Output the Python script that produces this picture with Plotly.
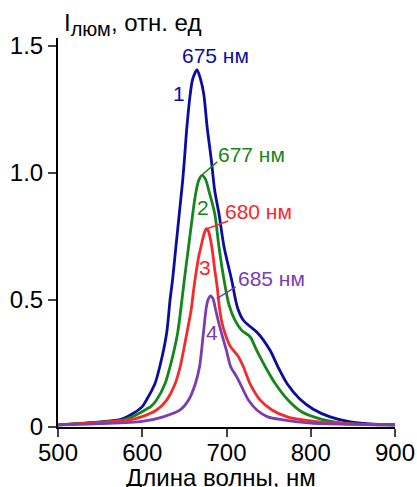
import plotly.graph_objects as go

# Luminescence spectra: wavelength (nm) and intensity (rel. units)
wl_1 = [500, 550, 575, 590, 600, 605, 615, 621, 629, 633, 636, 640, 644, 648, 650, 653, 657, 660, 665,
        669, 673, 677, 682, 686, 691, 697, 706, 713, 720, 728, 737, 752, 761, 772, 787, 803, 823, 847, 870, 900]
int_1 = [0.008, 0.02, 0.03, 0.055, 0.08, 0.106, 0.17, 0.24, 0.37, 0.50, 0.58, 0.71, 0.84, 0.97, 1.05, 1.18, 1.31, 1.37, 1.405,
         1.37, 1.31, 1.18, 1.05, 0.93, 0.84, 0.71, 0.58, 0.47, 0.42, 0.395, 0.37, 0.30, 0.237, 0.17, 0.11, 0.07, 0.04, 0.02, 0.012, 0.008]

wl_2 = [500, 550, 578, 588, 605, 610, 617, 627, 633, 642, 646, 650, 655, 660, 663, 667, 671, 675, 679,
        686, 691, 697, 703, 710, 718, 728, 736, 746, 758, 773, 789, 813, 838, 870, 900]
int_2 = [0.008, 0.018, 0.028, 0.04, 0.07, 0.08, 0.106, 0.17, 0.237, 0.37, 0.47, 0.58, 0.71, 0.84, 0.91, 0.97, 0.99, 0.975, 0.93,
         0.84, 0.71, 0.58, 0.48, 0.42, 0.38, 0.355, 0.30, 0.237, 0.17, 0.106, 0.06, 0.03, 0.015, 0.009, 0.008]

wl_3 = [500, 558, 585, 599, 617, 629, 639, 645, 653, 658, 661, 664, 667, 670.5, 673, 676, 678.5, 682.5, 686, 689,
        691.6, 694, 698, 704, 714, 720, 728, 740, 754, 772, 791, 830, 900]
int_3 = [0.008, 0.02, 0.028, 0.04, 0.067, 0.106, 0.17, 0.237, 0.37, 0.46, 0.54, 0.61, 0.67, 0.72, 0.755, 0.78, 0.77, 0.71, 0.62, 0.55,
         0.47, 0.42, 0.37, 0.32, 0.277, 0.237, 0.17, 0.106, 0.067, 0.04, 0.028, 0.015, 0.008]

wl_4 = [500, 550, 600, 625, 645, 655, 663, 668, 672.6, 676, 678, 681.3, 684, 686.5, 690, 694, 700, 705,
        712, 718, 726, 736, 749, 767, 800, 850, 900]
int_4 = [0.008, 0.013, 0.022, 0.04, 0.067, 0.106, 0.17, 0.237, 0.37, 0.47, 0.50, 0.516, 0.505, 0.47, 0.42, 0.37, 0.30, 0.237,
         0.198, 0.159, 0.106, 0.067, 0.04, 0.028, 0.015, 0.01, 0.008]

colors = ["#0c0c9e", "#15861a", "#f52a2a", "#7a3db2"]
peak_labels = ["675 нм", "677 нм", "680 нм", "685 нм"]
curve_numbers = ["1", "2", "3", "4"]

x_ticks = [500, 600, 700, 800, 900]
y_ticks = [0, 0.5, 1.0, 1.5]
y_tick_text = ["0", "0.5", "1.0", "1.5"]

FONT = "Liberation Sans, Arial, sans-serif"

fig = go.Figure()
for wl, inten, c in zip([wl_1, wl_2, wl_3, wl_4], [int_1, int_2, int_3, int_4], colors):
    fig.add_trace(go.Scatter(x=wl, y=inten, mode="lines",
                             line=dict(color=c, width=2.8, shape="spline", smoothing=0.8),
                             showlegend=False, hoverinfo="skip"))

# peak labels (text centre positions in data units)
label_pos = [(687.5, 1.46), (730, 1.071), (738, 0.847), (753.5, 0.583)]
number_pos = [(643.6, 1.311), (672, 0.862), (675, 0.628), (682.8, 0.37)]
# leader lines from the peaks to the labels
leaders = [None, ((670.4, 0.99), (689, 1.043)), ((676.9, 0.78), (702, 0.81)), ((688.4, 0.505), (711, 0.551))]

for i in range(4):
    lx, ly = label_pos[i]
    fig.add_annotation(x=lx, y=ly, text=peak_labels[i], showarrow=False,
                       font=dict(family=FONT, size=21, color=colors[i]),
                       xanchor="center", yanchor="middle")
    nx, ny = number_pos[i]
    fig.add_annotation(x=nx, y=ny, text=curve_numbers[i], showarrow=False,
                       font=dict(family=FONT, size=21, color=colors[i]),
                       xanchor="center", yanchor="middle")
    if leaders[i]:
        (x0, y0), (x1, y1) = leaders[i]
        fig.add_shape(type="line", x0=x0, y0=y0, x1=x1, y1=y1,
                      line=dict(color=colors[i], width=1.5))

# y-axis title at the top-left corner
fig.add_annotation(xref="paper", yref="paper", x=0.012, y=0.99,
                   text="I<sub><span style='font-size:20px'>люм</span></sub>, отн. ед", showarrow=False,
                   font=dict(family=FONT, size=24, color="black"),
                   xanchor="left", yanchor="bottom")

# x-axis title
fig.add_annotation(xref="paper", yref="paper", x=0.485, y=-0.131,
                   text="Длина волны, нм", showarrow=False,
                   font=dict(family=FONT, size=24, color="black"),
                   xanchor="center", yanchor="middle")

fig.update_layout(
    width=417, height=487,
    margin=dict(l=58, r=22, t=38, b=60),
    paper_bgcolor="white", plot_bgcolor="white",
    font=dict(family=FONT, size=24, color="black"),
)
fig.update_xaxes(range=[500, 900], tickvals=x_ticks, ticks="outside", ticklen=8, tickwidth=2,
                 showline=True, linecolor="black", linewidth=2, showgrid=False, zeroline=False,
                 tickfont=dict(size=24), automargin=False, ticklabelstandoff=-5)
fig.update_yaxes(range=[0, 1.53], tickvals=y_ticks, ticktext=y_tick_text, ticks="outside", ticklen=8, tickwidth=2,
                 showline=True, linecolor="black", linewidth=2, showgrid=False, zeroline=False,
                 tickfont=dict(size=24), automargin=False)

fig.write_html("out.html")
